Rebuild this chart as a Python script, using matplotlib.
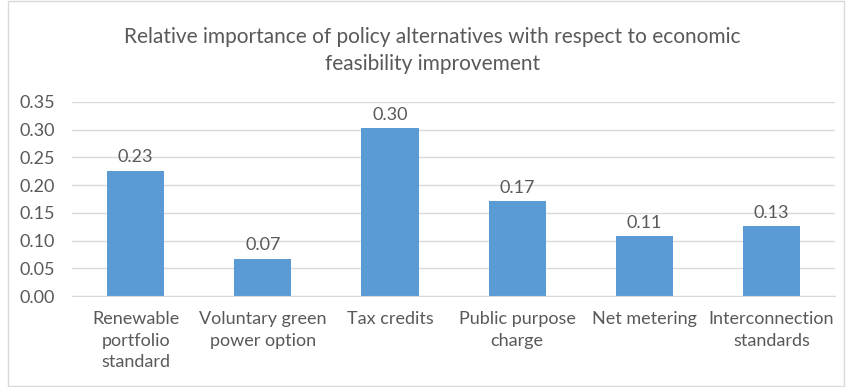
import matplotlib
matplotlib.use('Agg')
import matplotlib.pyplot as plt
from matplotlib.patches import Rectangle

categories = ['Renewable\nportfolio\nstandard', 'Voluntary green\npower option', 'Tax credits',
              'Public purpose\ncharge', 'Net metering', 'Interconnection\nstandards']
values = [0.226, 0.067, 0.302, 0.171, 0.108, 0.126]
yticks = [0.00, 0.05, 0.10, 0.15, 0.20, 0.25, 0.30, 0.35]

plt.rcParams['font.family'] = ['Lato', 'DejaVu Sans']
txt = '#595959'

fig = plt.figure(figsize=(8.46, 3.87), dpi=100)
fig.patches.append(Rectangle((8 / 846, 0.003), 1 - 8 / 846 - 0.002, 0.995, transform=fig.transFigure,
                             fill=False, edgecolor='#d9d9d9', linewidth=1))
ax = fig.add_axes([0.0851, 0.235, 0.902, 0.502])

x = range(len(categories))
bars = ax.bar(x, values, width=0.45, color='#5b9bd5', zorder=2)
for xi, v in zip(x, values):
    ax.annotate('%.2f' % v, (xi, v), xytext=(0, 4), textcoords='offset points',
                ha='center', va='bottom', fontsize=13, color=txt)

ax.set_xlim(-0.5, len(categories) - 0.5)
ax.set_ylim(0, 0.35)
ax.set_yticks(yticks)
ax.set_yticklabels(['%.2f' % t for t in yticks], fontsize=13, color=txt)
ax.set_xticks(list(x))
ax.set_xticklabels(categories, fontsize=13, color=txt, linespacing=1.4, va='top')
ax.tick_params(length=0, pad=11)
ax.tick_params(axis='y', pad=12)
ax.grid(axis='y', color='#d9d9d9', linewidth=1, zorder=0)
for s in ['top', 'right', 'left']:
    ax.spines[s].set_visible(False)
ax.spines['bottom'].set_color('#d9d9d9')

fig.text(0.511, 0.87, 'Relative importance of policy alternatives with respect to economic\nfeasibility improvement',
         ha='center', va='center', fontsize=15, color=txt, linespacing=1.45)

fig.savefig('out.png', dpi=100)
